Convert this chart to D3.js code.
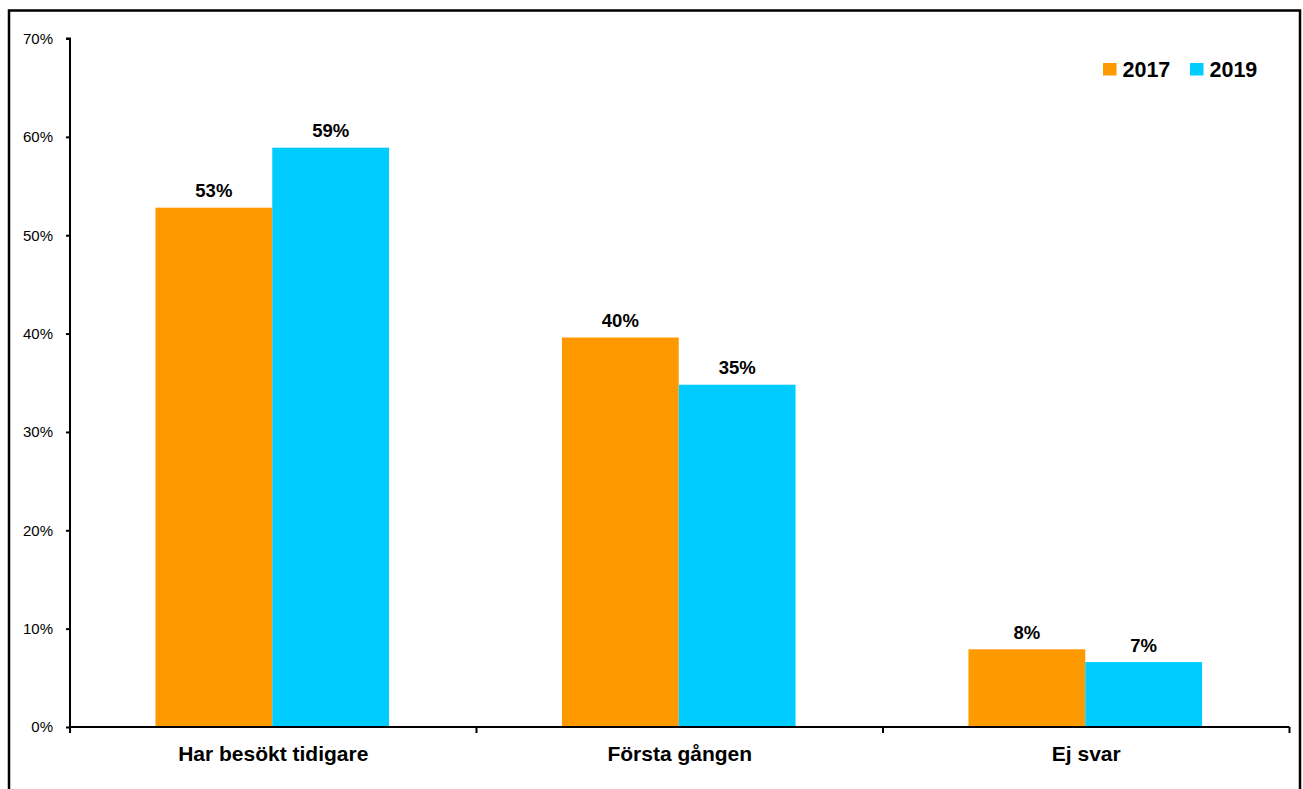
<!DOCTYPE html>
<html><head><meta charset="utf-8">
<script src="https://cdn.jsdelivr.net/npm/d3@7"></script>
<style>body{margin:0;background:#fff}svg{display:block;font-family:"Liberation Sans",Arial,sans-serif}</style>
</head><body>
<svg id="c" width="1303" height="789"></svg>
<script>
const categories = ["Har besökt tidigare", "Första gången", "Ej svar"];
const seriesNames = ["2017", "2019"];
const values2017 = [0.528, 0.396, 0.079];
const values2019 = [0.589, 0.348, 0.066];
const labels2017 = ["53%", "40%", "8%"];
const labels2019 = ["59%", "35%", "7%"];
const yTicks = [0, 0.1, 0.2, 0.3, 0.4, 0.5, 0.6, 0.7];
const colors = ["#FF9900", "#00CCFF"];

const svg = d3.select("#c");
svg.append("rect").attr("x", 9).attr("y", 10.5).attr("width", 1291).attr("height", 800)
  .attr("fill", "#fff").attr("stroke", "#000").attr("stroke-width", 2.5);

const mLeft = 70, mRight = 1289.5, mTop = 38.5, mBottom = 727;
const x0 = d3.scaleBand().domain(categories).range([mLeft, mRight]).padding(0);
const x1 = d3.scaleBand().domain(seriesNames).range([0, x0.bandwidth()]).paddingInner(0).paddingOuter(0.74);
const y = d3.scaleLinear().domain([0, 0.7]).range([mBottom, mTop]);

const data = categories.map((c, i) => ({cat: c, vals: [
  {s: "2017", v: values2017[i], l: labels2017[i], c: colors[0]},
  {s: "2019", v: values2019[i], l: labels2019[i], c: colors[1]}]}));

const g = svg.append("g").selectAll("g").data(data).join("g")
  .attr("transform", d => `translate(${x0(d.cat) - 1},0)`);
g.selectAll("rect").data(d => d.vals).join("rect")
  .attr("x", d => x1(d.s)).attr("width", x1.bandwidth())
  .attr("y", d => y(d.v)).attr("height", d => mBottom - y(d.v))
  .attr("fill", d => d.c);
g.selectAll("text").data(d => d.vals).join("text")
  .attr("x", d => x1(d.s) + x1.bandwidth() / 2).attr("y", d => y(d.v) - 10.5)
  .attr("text-anchor", "middle").attr("font-weight", "bold").attr("font-size", "18.5px")
  .text(d => d.l);

// y axis
const ya = svg.append("g").attr("transform", `translate(${mLeft},0)`)
  .call(d3.axisLeft(y).tickValues(yTicks).tickFormat(d3.format(".0%")).tickSize(4).tickPadding(13));
ya.select(".domain").attr("stroke-width", 2).attr("d", `M-4,${mTop}H0V${mBottom}`);
ya.selectAll(".tick line").attr("stroke-width", 2);
ya.selectAll(".tick text").attr("font-size", "15px").attr("font-family", "Liberation Sans, Arial, sans-serif").attr("fill", "#000");

// x axis
const xa = svg.append("g").attr("transform", `translate(0,${mBottom})`);
xa.append("path").attr("d", `M${mLeft},0H${mRight}`).attr("stroke", "#000").attr("stroke-width", 2);
const bounds = categories.map(c => x0(c)).concat([x0(categories[categories.length-1]) + x0.bandwidth()]);
xa.selectAll("line.t").data(bounds).join("line").attr("class", "t")
  .attr("x1", d => d).attr("x2", d => d).attr("y1", 0).attr("y2", 6)
  .attr("stroke", "#000").attr("stroke-width", 2);
xa.selectAll("text").data(categories).join("text")
  .attr("x", d => x0(d) + x0.bandwidth() / 2).attr("y", 34)
  .attr("text-anchor", "middle").attr("font-weight", "bold").attr("font-size", "21px")
  .text(d => d);

// legend
const leg = svg.append("g");
const legX = [1103, 1190];
seriesNames.forEach((s, i) => {
  leg.append("rect").attr("x", legX[i]).attr("y", 63).attr("width", 13.5).attr("height", 12.5).attr("fill", colors[i]);
  leg.append("text").attr("x", legX[i] + 19.5).attr("y", 77).attr("font-weight", "bold").attr("font-size", "21.5px").text(s);
});
</script>
</body></html>
